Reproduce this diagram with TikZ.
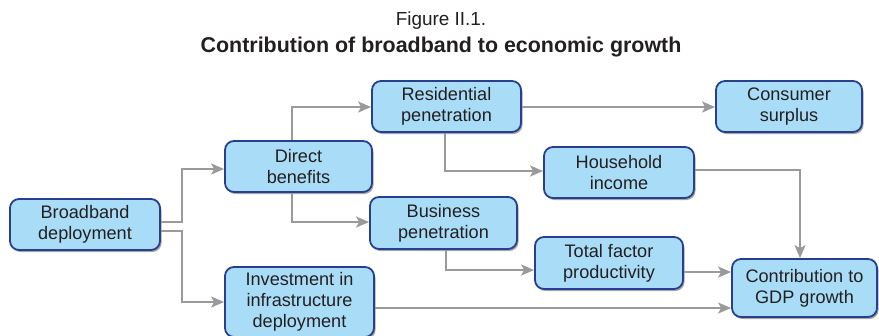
\documentclass[tikz,border=0pt]{standalone}
\usepackage{fontspec}
\setmainfont{Liberation Sans}
\usetikzlibrary{arrows.meta,shadows}
\definecolor{boxfill}{HTML}{A9DDF7}
\definecolor{boxdraw}{HTML}{26408F}
\definecolor{arrowgray}{HTML}{9A9A9A}
\definecolor{txt}{HTML}{231F20}
\begin{document}
\begin{tikzpicture}[x=1bp,y=-1bp,
 box/.style={draw=boxdraw, fill=boxfill, line width=1.8bp, rounded corners=9bp, align=center, text=txt,
   font=\fontsize{18.2}{20.8}\selectfont, inner sep=0pt,
   drop shadow={shadow xshift=1.5bp, shadow yshift=-2bp, opacity=0.35, fill=black}},
 arr/.style={draw=arrowgray, line width=1.8bp, -{Stealth[length=13bp,width=11bp,inset=3bp]}}]
\useasboundingbox (0,0) rectangle (879,335);
\node[font=\fontsize{19}{22}\selectfont, text=txt] (fig) at (441,21) {Figure II.1.};
\node[font=\bfseries\fontsize{21.5}{24}\selectfont, text=txt] (title) at (441,47) {Contribution of broadband to economic growth};

\node[box, minimum width=150bp, minimum height=51bp] (bb) at (85,224.5) {Broadband\\deployment};
\node[box, minimum width=147bp, minimum height=51bp] (db) at (298.5,166.5) {Direct\\benefits};
\node[box, minimum width=149bp, minimum height=51bp] (rp) at (446.5,106.5) {Residential\\penetration};
\node[box, minimum width=146bp, minimum height=51bp] (cs) at (789,106.5) {Consumer\\surplus};
\node[box, minimum width=150bp, minimum height=51bp] (hi) at (619,172.5) {Household\\income};
\node[box, minimum width=147bp, minimum height=52bp] (bp) at (443.5,223) {Business\\penetration};
\node[box, minimum width=148bp, minimum height=52bp] (tfp) at (609,263) {Total factor\\productivity};
\node[box, minimum width=149bp, minimum height=70bp] (inv) at (299.5,302) {Investment in\\infrastructure\\deployment};
\node[box, minimum width=145bp, minimum height=58bp] (gdp) at (804.5,288) {Contribution to\\GDP growth};

\draw[arr] (bb.east |- 0,222) -- (182,222) -- (182,169) -- (db.west |- 0,169);
\draw[arr] (bb.east |- 0,231) -- (182,231) -- (182,302) -- (inv.west |- 0,302);
\draw[arr] (db.north -| 292,0) -- (292,107) -- (rp.west |- 0,107);
\draw[arr] (db.south -| 292,0) -- (292,222) -- (bp.west |- 0,222);
\draw[arr] (rp.east |- 0,107) -- (cs.west |- 0,107);
\draw[arr] (rp.south -| 445,0) -- (445,171) -- (hi.west |- 0,171);
\draw[arr] (hi.east |- 0,170) -- (800,170) -- (gdp.north -| 800,0);
\draw[arr] (bp.south -| 446,0) -- (446,270) -- (tfp.west |- 0,270);
\draw[arr] (tfp.east |- 0,272) -- (gdp.west |- 0,272);
\draw[arr] (inv.east |- 0,308) -- (gdp.west |- 0,308);
\end{tikzpicture}
\end{document}
